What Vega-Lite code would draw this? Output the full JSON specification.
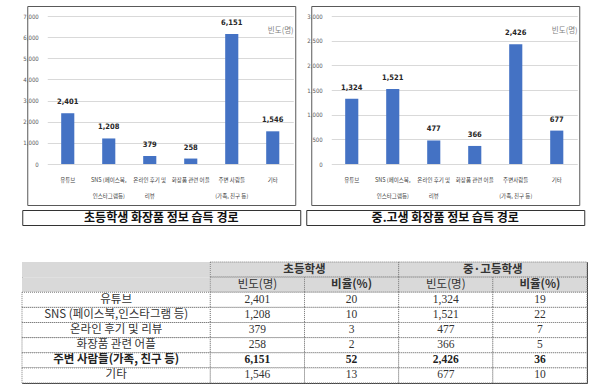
{
  "$schema": "https://vega.github.io/schema/vega-lite/v6.json",
  "background": "white",
  "padding": {"left": 21, "top": 5, "right": 0, "bottom": 0},
  "datasets": {
    "paths": [
      {"group": "초등학생", "path": "유튜브", "label": "유튜브", "freq": 2401, "pct": 20},
      {"group": "초등학생", "path": "SNS (페이스북,인스타그램 등)", "label": "SNS (페이스북,|인스타그램등)", "freq": 1208, "pct": 10},
      {"group": "초등학생", "path": "온라인 후기 및 리뷰", "label": "온라인 후기 및|리뷰", "freq": 379, "pct": 3},
      {"group": "초등학생", "path": "화장품 관련 어플", "label": "화장품 관련 어플", "freq": 258, "pct": 2},
      {"group": "초등학생", "path": "주변 사람들(가족, 친구 등)", "label": "주변 사람들|(가족, 친구 등)", "freq": 6151, "pct": 52},
      {"group": "초등학생", "path": "기타", "label": "기타", "freq": 1546, "pct": 13},
      {"group": "중·고등학생", "path": "유튜브", "label": "유튜브", "freq": 1324, "pct": 19},
      {"group": "중·고등학생", "path": "SNS (페이스북,인스타그램 등)", "label": "SNS (페이스북,|인스타그램등)", "freq": 1521, "pct": 22},
      {"group": "중·고등학생", "path": "온라인 후기 및 리뷰", "label": "온라인 후기 및|리뷰", "freq": 477, "pct": 7},
      {"group": "중·고등학생", "path": "화장품 관련 어플", "label": "화장품 관련 어플", "freq": 366, "pct": 5},
      {"group": "중·고등학생", "path": "주변 사람들(가족, 친구 등)", "label": "주변사람들|(가족, 친구 등)", "freq": 2426, "pct": 36},
      {"group": "중·고등학생", "path": "기타", "label": "기타", "freq": 677, "pct": 10}
    ],
    "header": [
      {"row": "헤더1", "group": "구분", "text": ""},
      {"row": "헤더2", "group": "구분", "text": ""},
      {"row": "헤더1", "group": "초등학생", "text": "초등학생"},
      {"row": "헤더1", "group": "중·고등학생", "text": "중·고등학생"}
    ],
    "subheader": [
      {"row": "헤더2", "group": "초등학생", "key": "freq", "text": "빈도(명)"},
      {"row": "헤더2", "group": "초등학생", "key": "pct", "text": "비율(%)"},
      {"row": "헤더2", "group": "중·고등학생", "key": "freq", "text": "빈도(명)"},
      {"row": "헤더2", "group": "중·고등학생", "key": "pct", "text": "비율(%)"}
    ]
  },
  "spacing": 35,
  "vconcat": [
    {
      "spacing": 4,
      "hconcat": [
        {
          "spacing": 3,
          "center": true,
          "vconcat": [
            {
              "width": 268,
              "height": 199,
              "view": {"stroke": "#595959", "strokeWidth": 1},
              "data": {"name": "paths"},
              "transform": [{"filter": "datum.group == '초등학생'"}],
              "encoding": {
                "x": {
                  "field": "label", "type": "nominal", "sort": null,
                  "scale": {"range": [20, 266], "paddingInner": 0.68, "paddingOuter": 0.34},
                  "axis": {"title": null, "offset": -41, "domain": false, "ticks": false, "labelAngle": 0,
                    "labelExpr": "split(datum.label, '|')", "labelFontSize": 5.5, "labelFont": "Noto Sans CJK KR",
                    "labelColor": "#404040", "labelPadding": 13, "labelLineHeight": 16, "labelBaseline": "top",
                    "labelOverlap": false, "labelLimit": 0}
                },
                "y": {
                  "field": "freq", "type": "quantitative",
                  "scale": {"domain": [0, 7000], "range": [158, 10], "nice": false},
                  "axis": {"title": "빈도(명)", "values": [0, 1000, 2000, 3000, 4000, 5000, 6000, 7000],
                    "labelExpr": "format(datum.value, ',')",
                    "offset": -20, "domain": false, "ticks": false, "labelPadding": 9, "labelFontSize": 6,
                    "labelFont": "Liberation Sans Narrow, DejaVu Sans Condensed, Liberation Sans", "labelColor": "#595959",
                    "grid": true, "gridColor": "#d9d9d9", "titleAngle": 0, "titleX": 233, "titleY": 24,
                    "titleFontSize": 7.5, "titleColor": "#7f7f7f", "titleFontWeight": "normal", "titleFont": "Noto Sans CJK KR",
                    "titleAlign": "center", "titleBaseline": "middle"}
                }
              },
              "layer": [
                {"mark": {"type": "bar", "color": "#4472C4"}},
                {"mark": {"type": "text", "dy": -11, "fontWeight": "bold", "fontSize": 7.5, "color": "#262626",
                  "font": "Liberation Sans Narrow, DejaVu Sans Condensed, Liberation Sans"},
                 "encoding": {"text": {"field": "freq", "format": ","}}}
              ]
            },
            {
              "width": 278,
              "height": 15,
              "view": {"stroke": "#333333"},
              "data": {"values": [{"caption": "초등학생 화장품 정보 습득 경로"}]},
              "mark": {"type": "text", "fontSize": 12,
                "fontWeight": "bold", "font": "Noto Sans CJK KR", "baseline": "middle", "align": "center", "color": "#111111"},
              "encoding": {
                "x": {"field": "caption", "type": "nominal", "axis": null},
                "y": {"field": "caption", "type": "nominal", "axis": null},
                "text": {"field": "caption"}
              }
            }
          ]
        },
        {
          "spacing": 3,
          "center": true,
          "vconcat": [
            {
              "width": 268,
              "height": 199,
              "view": {"stroke": "#595959", "strokeWidth": 1},
              "data": {"name": "paths"},
              "transform": [{"filter": "datum.group == '중·고등학생'"}],
              "encoding": {
                "x": {
                  "field": "label", "type": "nominal", "sort": null,
                  "scale": {"range": [20, 266], "paddingInner": 0.68, "paddingOuter": 0.34},
                  "axis": {"title": null, "offset": -41, "domain": false, "ticks": false, "labelAngle": 0,
                    "labelExpr": "split(datum.label, '|')", "labelFontSize": 5.5, "labelFont": "Noto Sans CJK KR",
                    "labelColor": "#404040", "labelPadding": 13, "labelLineHeight": 16, "labelBaseline": "top",
                    "labelOverlap": false, "labelLimit": 0}
                },
                "y": {
                  "field": "freq", "type": "quantitative",
                  "scale": {"domain": [0, 3000], "range": [158, 10], "nice": false},
                  "axis": {"title": "빈도(명)", "values": [0, 500, 1000, 1500, 2000, 2500, 3000],
                    "labelExpr": "format(datum.value, ',')",
                    "offset": -20, "domain": false, "ticks": false, "labelPadding": 9, "labelFontSize": 6,
                    "labelFont": "Liberation Sans Narrow, DejaVu Sans Condensed, Liberation Sans", "labelColor": "#595959",
                    "grid": true, "gridColor": "#d9d9d9", "titleAngle": 0, "titleX": 233, "titleY": 24,
                    "titleFontSize": 7.5, "titleColor": "#7f7f7f", "titleFontWeight": "normal", "titleFont": "Noto Sans CJK KR",
                    "titleAlign": "center", "titleBaseline": "middle"}
                }
              },
              "layer": [
                {"mark": {"type": "bar", "color": "#4472C4"}},
                {"mark": {"type": "text", "dy": -11, "fontWeight": "bold", "fontSize": 7.5, "color": "#262626",
                  "font": "Liberation Sans Narrow, DejaVu Sans Condensed, Liberation Sans"},
                 "encoding": {"text": {"field": "freq", "format": ","}}}
              ]
            },
            {
              "width": 278,
              "height": 15,
              "view": {"stroke": "#333333"},
              "data": {"values": [{"caption": "중.고생 화장품 정보 습득 경로"}]},
              "mark": {"type": "text", "fontSize": 12,
                "fontWeight": "bold", "font": "Noto Sans CJK KR", "baseline": "middle", "align": "center", "color": "#111111"},
              "encoding": {
                "x": {"field": "caption", "type": "nominal", "axis": null},
                "y": {"field": "caption", "type": "nominal", "axis": null},
                "text": {"field": "caption"}
              }
            }
          ]
        }
      ]
    },
    {
      "width": 565,
      "height": 121,
      "view": {"stroke": "#404040", "strokeWidth": 1},
      "layer": [
        {
          "data": {"name": "header"},
          "mark": {"type": "rect", "fill": "#d9d9d9", "stroke": "#7f7f7f", "strokeDash": [1, 1], "strokeWidth": 1},
          "encoding": {
            "x": {"field": "group", "type": "nominal", "scale": {"domain": ["구분", "초등학생", "중·고등학생"], "paddingInner": 0, "paddingOuter": 0}, "axis": null},
            "y": {"field": "row", "type": "nominal", "scale": {"domain": ["헤더1", "헤더2", "유튜브", "SNS (페이스북,인스타그램 등)", "온라인 후기 및 리뷰", "화장품 관련 어플", "주변 사람들(가족, 친구 등)", "기타"], "paddingInner": 0, "paddingOuter": 0}, "axis": null},
            "strokeOpacity": {"condition": {"test": "datum.group == '구분'", "value": 0}, "value": 1}
          }
        },
        {
          "data": {"name": "subheader"},
          "mark": {"type": "rect", "fill": "#d9d9d9", "stroke": "#7f7f7f", "strokeDash": [1, 1], "strokeWidth": 1},
          "encoding": {
            "x": {"field": "group", "type": "nominal", "axis": null},
            "xOffset": {"field": "key", "type": "nominal", "scale": {"domain": ["freq", "pct"], "paddingInner": 0, "paddingOuter": 0}},
            "y": {"field": "row", "type": "nominal", "axis": null}
          }
        },
        {
          "data": {"name": "paths"},
          "transform": [{"filter": "datum.group == '초등학생'"}],
          "mark": {"type": "rect", "fill": "white", "stroke": "#7f7f7f", "strokeDash": [1, 1], "strokeWidth": 1},
          "encoding": {
            "x": {"datum": "구분", "type": "nominal", "axis": null},
            "y": {"field": "path", "type": "nominal", "axis": null}
          }
        },
        {
          "data": {"name": "paths"},
          "transform": [{"fold": ["freq", "pct"], "as": ["key", "value"]}],
          "mark": {"type": "rect", "fill": "white", "stroke": "#7f7f7f", "strokeDash": [1, 1], "strokeWidth": 1},
          "encoding": {
            "x": {"field": "group", "type": "nominal", "axis": null},
            "xOffset": {"field": "key", "type": "nominal"},
            "y": {"field": "path", "type": "nominal", "axis": null}
          }
        },
        {
          "data": {"name": "header"},
          "mark": {"type": "text", "fontSize": 11.5, "font": "Noto Sans CJK KR", "fontWeight": "bold", "color": "#333333"},
          "encoding": {
            "x": {"field": "group", "type": "nominal", "axis": null},
            "y": {"field": "row", "type": "nominal", "axis": null},
            "text": {"field": "text"}
          }
        },
        {
          "data": {"name": "subheader"},
          "transform": [{"filter": "datum.key == 'freq'"}],
          "mark": {"type": "text", "fontSize": 11.5, "font": "Noto Sans CJK KR", "color": "#333333"},
          "encoding": {
            "x": {"field": "group", "type": "nominal", "axis": null},
            "xOffset": {"field": "key", "type": "nominal"},
            "y": {"field": "row", "type": "nominal", "axis": null},
            "text": {"field": "text"}
          }
        },
        {
          "data": {"name": "subheader"},
          "transform": [{"filter": "datum.key == 'pct'"}],
          "mark": {"type": "text", "fontSize": 11.5, "font": "Noto Sans CJK KR", "fontWeight": "bold", "color": "#333333"},
          "encoding": {
            "x": {"field": "group", "type": "nominal", "axis": null},
            "xOffset": {"field": "key", "type": "nominal"},
            "y": {"field": "row", "type": "nominal", "axis": null},
            "text": {"field": "text"}
          }
        },
        {
          "data": {"name": "paths"},
          "transform": [{"filter": "datum.group == '초등학생' && datum.path != '주변 사람들(가족, 친구 등)'"}],
          "mark": {"type": "text", "fontSize": 11.5, "font": "Noto Sans CJK KR", "color": "#333333"},
          "encoding": {
            "x": {"datum": "구분", "type": "nominal", "axis": null},
            "y": {"field": "path", "type": "nominal", "axis": null},
            "text": {"field": "path"}
          }
        },
        {
          "data": {"name": "paths"},
          "transform": [{"filter": "datum.group == '초등학생' && datum.path == '주변 사람들(가족, 친구 등)'"}],
          "mark": {"type": "text", "fontSize": 11.5, "font": "Noto Sans CJK KR", "fontWeight": "bold", "color": "#222222"},
          "encoding": {
            "x": {"datum": "구분", "type": "nominal", "axis": null},
            "y": {"field": "path", "type": "nominal", "axis": null},
            "text": {"field": "path"}
          }
        },
        {
          "data": {"name": "paths"},
          "transform": [{"filter": "datum.path != '주변 사람들(가족, 친구 등)'"}, {"fold": ["freq", "pct"], "as": ["key", "value"]}],
          "mark": {"type": "text", "fontSize": 11.5, "font": "Liberation Serif", "color": "#333333"},
          "encoding": {
            "x": {"field": "group", "type": "nominal", "axis": null},
            "xOffset": {"field": "key", "type": "nominal"},
            "y": {"field": "path", "type": "nominal", "axis": null},
            "text": {"field": "value", "format": ","}
          }
        },
        {
          "data": {"name": "paths"},
          "transform": [{"filter": "datum.path == '주변 사람들(가족, 친구 등)'"}, {"fold": ["freq", "pct"], "as": ["key", "value"]}],
          "mark": {"type": "text", "fontSize": 11.5, "font": "Liberation Serif", "fontWeight": "bold", "color": "#222222"},
          "encoding": {
            "x": {"field": "group", "type": "nominal", "axis": null},
            "xOffset": {"field": "key", "type": "nominal"},
            "y": {"field": "path", "type": "nominal", "axis": null},
            "text": {"field": "value", "format": ","}
          }
        }
      ]
    }
  ]
}
